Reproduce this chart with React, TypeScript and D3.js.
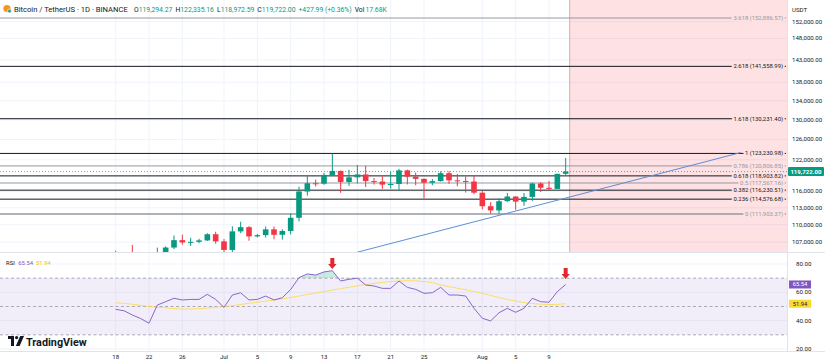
import React from 'react';
import * as d3 from 'd3';

const W = 825;
const H = 364;
const PANE_R = 787;
const MAIN_BOTTOM = 252;
const RSI_TOP = 253;
const RSI_BOTTOM = 351;
const FONT = 'Roboto, "Liberation Sans", sans-serif';

// daily candles, Jun 18 .. Aug 11
const dates = d3.utcDay.range(new Date(Date.UTC(2025, 5, 18)), new Date(Date.UTC(2025, 7, 12)));

const opens = [
  104551, 104886, 104658, 103297, 102120, 100963, 105333, 106084, 107340, 106948, 107047, 107296, 108356,
  107135, 105681, 108849, 109584, 107984, 108198, 109203, 108262, 108922, 111233, 115987, 117516, 117435,
  119086, 119841, 117758, 118630, 119177, 117924, 117840, 117265, 117381, 119954, 118755, 118340, 117614,
  117920, 119415, 118062, 117950, 117840, 115764, 113297, 112546, 114208, 115055, 114129, 114992, 117472,
  116674, 116462, 119294.27,
];
const highs = [
  105550, 105250, 106524, 103982, 103400, 106074, 106290, 108135, 108272, 107735, 107577, 108528, 108789,
  107540, 109730, 110529, 109767, 108420, 109700, 109700, 109216, 111999, 116868, 118869, 118200, 119488,
  123218, 119940, 120063, 120998, 120820, 118499, 118856, 119676, 120247, 120090, 119535, 118451, 118297,
  119766, 119800, 119273, 118792, 118922, 116052, 114036, 114800, 115720, 115127, 115716, 117630, 117700,
  117944, 119311, 122335.16,
];
const lows = [
  103500, 103900, 102345, 100837, 98200, 99613, 104622, 105808, 106562, 106355, 106802, 107208, 106733,
  105250, 105100, 108530, 107245, 107800, 107800, 107500, 107429, 108324, 110581, 115222, 116900, 117224,
  118905, 115736, 117017, 117453, 116812, 117277, 116467, 116515, 116128, 117301, 117148, 114723, 117151,
  117840, 117427, 116950, 115796, 115500, 112722, 112000, 111920, 114100, 112650, 113355, 114259, 115900,
  116300, 116460, 118972.59,
];
const closes = [
  104886, 104658, 103297, 102120, 100963, 105333, 106084, 107340, 106948, 107047, 107296, 108356, 107135,
  105681, 108849, 109584, 107984, 108198, 109203, 108262, 108922, 111233, 115987, 117516, 117435, 119086,
  119841, 117758, 118630, 119177, 117924, 117840, 117265, 117381, 119954, 118755, 118340, 117614, 117920,
  119415, 118062, 117950, 117840, 115764, 113297, 112546, 114208, 115055, 114129, 114992, 117472, 116674,
  116462, 119294, 119722.0,
];

const rsi = [
  48, 47, 44, 41.5, 38.2, 51, 53.4, 55.8, 54.6, 55, 55, 58.6, 55,
  49.4, 58.1, 59.7, 54.6, 55, 57.4, 54.6, 56.2, 62, 70.4, 73, 72.2, 74.4,
  75.3, 68, 69.2, 70, 65.2, 64.5, 62.8, 62.8, 68, 63.5, 62.1, 59.3, 59.7,
  63.5, 58.1, 58.1, 57.4, 48.7, 41.7, 39.8, 45.6, 48.7, 45.9, 48.7, 55.8, 53.4,
  53, 60.5, 65.54,
];
const rsiMa = [
  52.7, 52.2, 51.6, 50.8, 50.0, 49.5, 49.0, 48.5, 48.2, 48.2, 48.5, 48.9, 49.4,
  49.9, 50.6, 51.4, 52.3, 53.0, 53.8, 54.6, 55.4, 56.3, 57.4, 58.5, 59.5, 60.5,
  61.6, 62.6, 63.6, 64.6, 65.5, 66.3, 67.0, 67.6, 68.0, 68.2, 68.1, 67.6, 66.9,
  65.2, 64.0, 62.9, 61.8, 60.6, 59.3, 57.8, 56.4, 55.0, 53.8, 52.8, 52.1, 51.6,
  51.4, 51.5, 51.94,
];

const fibRatios = [3.618, 2.618, 1.618, 1, 0.786, 0.618, 0.5, 0.382, 0.236, 0];
const fibPrices = [152886.57, 141558.99, 130231.4, 123230.98, 120806.85, 118903.82, 117567.16, 116230.51, 114576.68, 111903.37];
const fibDark = [false, true, true, true, false, true, false, true, true, false];

const priceTicks = [152000, 148000, 143000, 138000, 134000, 130000, 126000, 122000, 116000, 113000, 110000, 107000];
const rsiTicks = [80, 60, 40, 20];
const rsiBands = [70, 50, 30];

const dateTicks = ['2025-06-18', '2025-06-22', '2025-06-26', '2025-07-01', '2025-07-05', '2025-07-09', '2025-07-13',
  '2025-07-17', '2025-07-21', '2025-07-25', '2025-08-01', '2025-08-05', '2025-08-09'];
const dateLabels = ['18', '22', '26', 'Jul', '5', '9', '13', '17', '21', '25', 'Aug', '5', '9'];

// trend line anchors (date, price)
const trendDates = ['2025-07-17', '2025-09-01'];
const trendPrices = [105300, 123400];

// red arrow markers on the RSI pane
const arrowDates = ['2025-07-14', '2025-08-11'];
const arrowLevels = [76.5, 69.5];

const GREEN = '#089981';
const RED = '#f23645';
const PURPLE = '#7e57c2';
const YELLOW = '#fdd835';
const GRID = '#f0f3fa';
const TXT = '#131722';

export default function App() {
  const x = d3.scaleUtc()
    .domain([new Date(Date.UTC(2025, 6, 1)), new Date(Date.UTC(2025, 7, 9))])
    .range([224, 549]);
  const y = d3.scaleLog().domain([fibPrices[9], fibPrices[0]]).range([214, 18]);
  const yR = d3.scaleLinear().domain([20, 80]).range([349, 264]);
  const bw = 5.6;
  const fmt = d3.format(',.2f');
  const last = closes.length - 1;

  const rsiLine = d3.line<number>().x((_, i) => x(dates[i])).y((d) => yR(d));
  const obArea = d3.area<number>().x((_, i) => x(dates[i])).y0(yR(70)).y1((d) => yR(d));

  const zoneX = x(dates[last]) + 4;
  const lastY = y(closes[last]);

  return (
    <svg width={W} height={H} style={{ position: 'absolute', left: 0, top: 0, background: '#fff' }} fontFamily={FONT}>
      <defs>
        <clipPath id="mainClip">
          <rect x={0} y={0} width={PANE_R} height={MAIN_BOTTOM} />
        </clipPath>
        <clipPath id="obClip">
          <rect x={0} y={RSI_TOP} width={PANE_R} height={yR(70) - RSI_TOP} />
        </clipPath>
      </defs>

      {/* grid */}
      {priceTicks.map((t) => (
        <line key={'pg' + t} x1={0} x2={PANE_R} y1={y(t)} y2={y(t)} stroke={GRID} />
      ))}
      {dateTicks.map((d) => (
        <line key={'vg' + d} x1={x(new Date(d))} x2={x(new Date(d))} y1={0} y2={RSI_BOTTOM} stroke={GRID} />
      ))}
      {rsiTicks.map((t) => (
        <line key={'rg' + t} x1={0} x2={PANE_R} y1={yR(t)} y2={yR(t)} stroke={GRID} />
      ))}

      {/* red zone */}
      <rect x={zoneX} y={0} width={PANE_R - zoneX} height={MAIN_BOTTOM} fill="rgba(242,54,69,0.15)" />
      <line x1={zoneX} x2={zoneX} y1={0} y2={MAIN_BOTTOM} stroke="rgba(200,80,95,0.45)" />

      {/* fib levels */}
      {fibPrices.map((p, i) => {
        const c = fibDark[i] ? TXT : '#9598a1';
        return (
          <g key={'fib' + i}>
            <line x1={0} x2={PANE_R - 1} y1={y(p)} y2={y(p)} stroke={c} strokeWidth={i === 9 ? 1.5 : 1} />
            <text x={PANE_R - 4} y={y(p) + 2} textAnchor="end" fontSize={5.9} fill={c}
              stroke="#fde1e3" strokeWidth={4} paintOrder="stroke">
              {`${fibRatios[i]} (${fmt(p)})`}
            </text>
          </g>
        );
      })}

      {/* last price line */}
      <line x1={0} x2={PANE_R} y1={lastY} y2={lastY} stroke={GREEN} strokeDasharray="1,2" opacity={0.7} />

      {/* candles */}
      <g clipPath="url(#mainClip)">
        {dates.map((d, i) => {
          const up = closes[i] >= opens[i];
          const c = up ? GREEN : RED;
          const cx = x(d);
          const top = y(Math.max(opens[i], closes[i]));
          const bot = y(Math.min(opens[i], closes[i]));
          return (
            <g key={'c' + i}>
              <line x1={cx} x2={cx} y1={y(highs[i])} y2={y(lows[i])} stroke={c} />
              <rect x={cx - bw / 2} y={top} width={bw} height={Math.max(1, bot - top)} fill={c} />
            </g>
          );
        })}
        <line
          x1={x(new Date(trendDates[0]))} y1={y(trendPrices[0])}
          x2={x(new Date(trendDates[1]))} y2={y(trendPrices[1])}
          stroke="#5b8fd6" strokeWidth={1}
        />
      </g>

      {/* pane borders */}
      <line x1={0} x2={W} y1={MAIN_BOTTOM + 0.5} y2={MAIN_BOTTOM + 0.5} stroke="#e0e3eb" />
      <line x1={0} x2={W} y1={RSI_BOTTOM + 0.5} y2={RSI_BOTTOM + 0.5} stroke="#e0e3eb" />
      <line x1={PANE_R + 0.5} x2={PANE_R + 0.5} y1={0} y2={RSI_BOTTOM} stroke="#e0e3eb" />

      {/* header */}
      <circle cx={7} cy={8.5} r={3.6} fill="#f7931a" />
      <circle cx={9.5} cy={11} r={2} fill="#26a69a" stroke="#fff" strokeWidth={0.6} />
      <text x={14} y={11.5} fontSize={7.6} fill={TXT}>Bitcoin / TetherUS · 1D · BINANCE</text>
      <text x={134} y={11.5} fontSize={6.8} fill={TXT}>
        <tspan>O</tspan><tspan fill={GREEN}>{fmt(opens[last])}</tspan>
        <tspan dx={3}>H</tspan><tspan fill={GREEN}>{fmt(highs[last])}</tspan>
        <tspan dx={3}>L</tspan><tspan fill={GREEN}>{fmt(lows[last])}</tspan>
        <tspan dx={3}>C</tspan><tspan fill={GREEN}>{fmt(closes[last])}</tspan>
        <tspan dx={3} fill={GREEN}>+427.99 (+0.36%)</tspan>
        <tspan dx={3}>Vol</tspan><tspan dx={1} fill={GREEN}>17.68K</tspan>
      </text>

      {/* right price axis */}
      <text x={792} y={12} fontSize={6.1} fill={TXT}>USDT</text>
      {priceTicks.map((t) => (
        <text key={'pt' + t} x={792} y={y(t) + 2} fontSize={6.1} fill={TXT}>{fmt(t)}</text>
      ))}
      <rect x={788} y={lastY - 4.5} width={36} height={9} fill={GREEN} rx={1} />
      <text x={806} y={lastY + 2} textAnchor="middle" fontSize={6.1} fill="#fff" fontWeight="bold">{fmt(closes[last])}</text>

      {/* RSI pane */}
      <rect x={0} y={yR(70)} width={PANE_R} height={yR(30) - yR(70)} fill="rgba(126,87,194,0.1)" />
      {rsiBands.map((b) => (
        <line key={'rb' + b} x1={0} x2={PANE_R} y1={yR(b)} y2={yR(b)} stroke="#9598a1" strokeDasharray="3,2.5" strokeWidth={0.8} />
      ))}
      <path d={obArea(rsi) || ''} fill="rgba(8,153,129,0.22)" clipPath="url(#obClip)" />
      <path d={rsiLine(rsiMa) || ''} fill="none" stroke={YELLOW} strokeWidth={1} opacity={0.75} />
      <path d={rsiLine(rsi) || ''} fill="none" stroke={PURPLE} strokeWidth={0.9} />

      {arrowDates.map((d, i) => {
        const ax = x(new Date(d));
        const ay = yR(arrowLevels[i]);
        return (
          <path key={'ar' + i}
            d={`M${ax - 2},${ay - 11} H${ax + 2} V${ay - 5} H${ax + 4.2} L${ax},${ay} L${ax - 4.2},${ay - 5} H${ax - 2} Z`}
            fill="#e0282e" />
        );
      })}

      <text x={6} y={264.5} fontSize={5.9} fill={TXT}>
        RSI <tspan dx={2} fill={PURPLE}>{d3.format('.2f')(rsi[last])}</tspan>
        <tspan dx={3} fill="#f2c200">{d3.format('.2f')(rsiMa[last])}</tspan>
      </text>

      {rsiTicks.map((t) => (
        <text key={'rt' + t} x={796} y={yR(t) + 2} fontSize={6.1} fill={TXT}>{d3.format('.2f')(t)}</text>
      ))}
      <rect x={789} y={yR(rsi[last]) - 4} width={22} height={8} fill={PURPLE} />
      <text x={800} y={yR(rsi[last]) + 2} textAnchor="middle" fontSize={5.8} fill="#fff">{d3.format('.2f')(rsi[last])}</text>
      <rect x={789} y={yR(rsiMa[last]) - 4} width={22} height={8} fill={YELLOW} />
      <text x={800} y={yR(rsiMa[last]) + 2} textAnchor="middle" fontSize={5.8} fill={TXT}>{d3.format('.2f')(rsiMa[last])}</text>

      {/* time axis */}
      {dateTicks.map((d, i) => (
        <text key={'dt' + d} x={x(new Date(d))} y={359} textAnchor="middle" fontSize={6} fill={TXT}>{dateLabels[i]}</text>
      ))}

      {/* logo */}
      <g transform="translate(8,336)" fill={TXT}>
        <path d="M0,0 H6 V10 H3 V3 H0 Z" />
        <circle cx={8.6} cy={1.6} r={1.6} />
        <path d="M12.2,0 H16 L11.6,10 H7.8 Z" />
      </g>
      <text x={26} y={346} fontSize={10.8} fontWeight="bold" fill={TXT}>TradingView</text>
    </svg>
  );
}
